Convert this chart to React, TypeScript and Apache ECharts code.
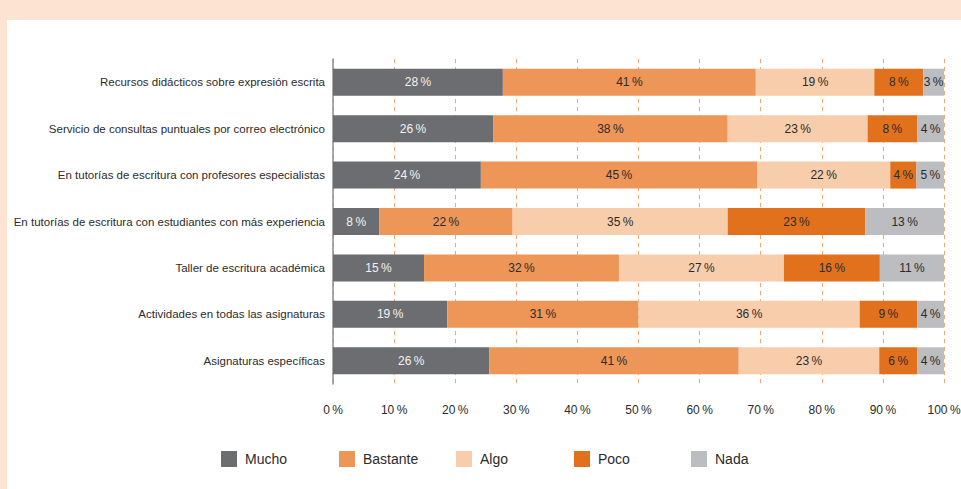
import React, { useEffect, useRef } from "react";
import * as echarts from "echarts";

const categories = [
  "Recursos didácticos sobre expresión escrita",
  "Servicio de consultas puntuales por correo electrónico",
  "En tutorías de escritura con profesores especialistas",
  "En tutorías de escritura con estudiantes con más experiencia",
  "Taller de escritura académica",
  "Actividades en todas las asignaturas",
  "Asignaturas específicas",
];

const seriesNames = ["Mucho", "Bastante", "Algo", "Poco", "Nada"];

const mucho = [27.8, 26.2, 24.2, 7.6, 14.9, 18.7, 25.6];
const bastante = [41.4, 38.4, 45.2, 21.8, 31.9, 31.3, 40.8];
const algo = [19.4, 22.9, 21.8, 35.2, 27.0, 36.2, 23.0];
const poco = [8.0, 8.1, 4.3, 22.5, 15.7, 9.4, 6.2];
const nada = [3.4, 4.4, 4.5, 12.9, 10.5, 4.4, 4.4];

const xTicks = [0, 10, 20, 30, 40, 50, 60, 70, 80, 90, 100];

const seriesData = [mucho, bastante, algo, poco, nada];
const colors = ["#6c6d70", "#ee9558", "#f8cdab", "#e2711d", "#bcbdc0"];
const labelColors = ["#f2f2f2", "#2b2b2b", "#2b2b2b", "#2b2b2b", "#2b2b2b"];
const legendLefts = [221, 339, 456, 574, 691];

const FONT = "'Liberation Sans', Arial, sans-serif";
const THIN = "\u2009";

export default function App() {
  const ref = useRef<HTMLDivElement>(null);
  useEffect(() => {
    if (!ref.current) return;
    const chart = echarts.init(ref.current, undefined, { renderer: "svg" });
    chart.setOption({
      animation: false,
      backgroundColor: "#fde3d2",
      textStyle: { fontFamily: FONT },
      graphic: [
        {
          type: "rect",
          z: -10,
          silent: true,
          shape: { x: 7, y: 20, width: 954, height: 469 },
          style: { fill: "#ffffff" },
        },
      ],
      grid: {
        left: 333,
        right: 17,
        top: 59,
        height: 325,
        containLabel: false,
        outerBoundsMode: "none",
      },
      legend: seriesNames.map((n, i) => ({
        data: [n],
        left: legendLefts[i],
        top: 451,
        padding: 0,
        itemWidth: 16,
        itemHeight: 16,
        icon: "rect",
        selectedMode: false,
        textStyle: {
          fontFamily: FONT,
          fontSize: 14,
          color: "#2b2b2b",
          padding: [0, 0, 0, 3],
        },
      })),
      xAxis: {
        type: "value",
        min: 0,
        max: 100,
        interval: 10,
        axisLine: { show: false },
        axisTick: { show: false },
        axisLabel: {
          margin: 20,
          fontSize: 12,
          color: "#2b2b2b",
          fontFamily: FONT,
          formatter: (v: number) => (xTicks.includes(v) ? `${v}${THIN}%` : ""),
        },
        splitLine: {
          show: true,
          lineStyle: { color: "#f4a86f", type: [4, 4], width: 1 },
        },
      },
      yAxis: {
        type: "category",
        inverse: true,
        data: categories,
        axisLine: { show: true, lineStyle: { color: "#8c8c8c", width: 1.5 } },
        axisTick: { show: false },
        axisLabel: {
          margin: 8,
          fontSize: 11.5,
          color: "#2b2b2b",
          fontFamily: FONT,
        },
      },
      series: seriesNames.map((n, i) => ({
        name: n,
        type: "bar",
        stack: "total",
        barWidth: 27,
        data: seriesData[i],
        itemStyle: { color: colors[i] },
        label: {
          show: true,
          position: "inside",
          fontSize: 12,
          fontFamily: FONT,
          color: labelColors[i],
          formatter: (p: any) => `${Math.round(p.value)}${THIN}%`,
        },
      })),
    });
    return () => chart.dispose();
  }, []);
  return (
    <div
      ref={ref}
      style={{ position: "fixed", left: 0, top: 0, width: 961, height: 489 }}
    />
  );
}
